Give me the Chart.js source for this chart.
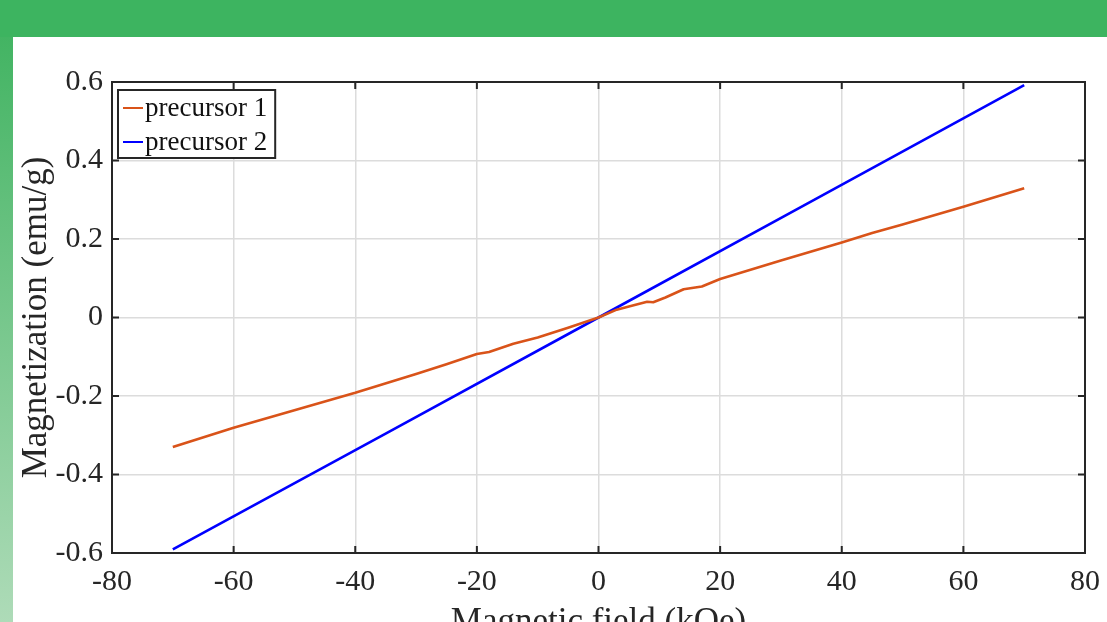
<!DOCTYPE html>
<html lang="en">
<head>
    <meta charset="UTF-8">
    <title>Magnetization vs field</title>
    <script src="https://cdn.jsdelivr.net/npm/chart.js"></script>
    <style>
        html, body {
            margin: 0;
            padding: 0;
            width: 1107px;
            height: 622px;
            overflow: hidden;
            background: #3db460;
        }
        .strip {
            position: absolute;
            left: 0;
            top: 37px;
            width: 13px;
            height: 585px;
            background: linear-gradient(to bottom, #43b463, #aedbb8);
        }
        .panel {
            position: absolute;
            left: 13px;
            top: 37px;
            width: 1094px;
            height: 585px;
            background: #fff;
            overflow: hidden;
        }
        .panel canvas {
            position: absolute;
            left: 0;
            top: 0;
        }
    </style>
</head>
<body>
    <div class="strip"></div>
    <div class="panel">
        <canvas id="chart" width="1094" height="620"></canvas>
    </div>

    <script>
        // precursor 1 (orange)
        const fieldP1 = [-70, -60, -50, -40, -30, -25, -20, -18, -14, -10, -5, 0, 3, 5, 8, 9, 11, 14, 17, 20, 30, 40, 45, 50, 60, 70];
        const magP1 = [-0.330, -0.281, -0.236, -0.192, -0.144, -0.119, -0.093, -0.088, -0.067, -0.051, -0.026, 0, 0.020, 0.028, 0.040, 0.039, 0.051, 0.072, 0.079, 0.098, 0.145, 0.191, 0.215, 0.237, 0.282, 0.329];

        // precursor 2 (blue)
        const fieldP2 = [-70, -35, 0, 35, 70];
        const magP2 = [-0.591, -0.296, 0, 0.296, 0.592];

        const seriesLabels = ['precursor 1', 'precursor 2'];
        const seriesColors = ['#d95319', '#0000ff'];

        const xTicks = [-80, -60, -40, -20, 0, 20, 40, 60, 80];
        const yTicks = [-0.6, -0.4, -0.2, 0, 0.2, 0.4, 0.6];

        const serif = '"Liberation Serif", "Times New Roman", serif';
        const ink = '#262626';

        function toPoints(xs, ys) {
            return xs.map((x, i) => ({ x: x, y: ys[i] }));
        }

        // box around the plot, ticks pointing inwards, legend in the corner
        const boxPlugin = {
            id: 'box',
            afterDatasetsDraw(chart) {
                const ctx = chart.ctx;
                const a = chart.chartArea;
                const xs = chart.scales.x, ys = chart.scales.y;
                const tl = 7;
                ctx.save();
                ctx.strokeStyle = ink;
                ctx.lineWidth = 2;
                ctx.beginPath();
                xTicks.forEach(v => {
                    const px = xs.getPixelForValue(v);
                    ctx.moveTo(px, a.bottom); ctx.lineTo(px, a.bottom - tl);
                    ctx.moveTo(px, a.top); ctx.lineTo(px, a.top + tl);
                });
                yTicks.forEach(v => {
                    const py = ys.getPixelForValue(v);
                    ctx.moveTo(a.left, py); ctx.lineTo(a.left + tl, py);
                    ctx.moveTo(a.right, py); ctx.lineTo(a.right - tl, py);
                });
                ctx.stroke();
                ctx.strokeRect(a.left, a.top, a.right - a.left, a.bottom - a.top);

                // legend
                ctx.font = '27px ' + serif;
                const textW = Math.max(...seriesLabels.map(s => ctx.measureText(s).width));
                const bx = a.left + 6, by = a.top + 8;
                const bw = 27 + textW + 8, bh = 68;
                ctx.fillStyle = '#fff';
                ctx.fillRect(bx, by, bw, bh);
                ctx.lineWidth = 2;
                ctx.strokeStyle = ink;
                ctx.strokeRect(bx, by, bw, bh);
                ctx.textBaseline = 'middle';
                ctx.textAlign = 'left';
                seriesLabels.forEach((s, i) => {
                    const ly = by + 18 + i * 34;
                    ctx.strokeStyle = seriesColors[i];
                    ctx.lineWidth = 2;
                    ctx.beginPath();
                    ctx.moveTo(bx + 5, ly);
                    ctx.lineTo(bx + 25, ly);
                    ctx.stroke();
                    ctx.fillStyle = '#111';
                    ctx.fillText(s, bx + 27, ly + 1);
                });
                ctx.restore();
            }
        };

        new Chart(document.getElementById('chart'), {
            type: 'line',
            data: {
                datasets: [
                    {
                        label: seriesLabels[0],
                        data: toPoints(fieldP1, magP1),
                        borderColor: seriesColors[0],
                        borderWidth: 2.6,
                        borderJoinStyle: 'round',
                        pointRadius: 0,
                        tension: 0
                    },
                    {
                        label: seriesLabels[1],
                        data: toPoints(fieldP2, magP2),
                        borderColor: seriesColors[1],
                        borderWidth: 2.6,
                        pointRadius: 0,
                        tension: 0
                    }
                ]
            },
            options: {
                responsive: false,
                animation: false,
                layout: { padding: { top: 45, right: 22, left: 0, bottom: 0 } },
                plugins: {
                    legend: { display: false },
                    tooltip: { enabled: false }
                },
                scales: {
                    x: {
                        type: 'linear',
                        min: -80,
                        max: 80,
                        afterFit(scale) {
                            scale.height = 104;
                            scale.paddingLeft = 0;
                            scale.paddingRight = 0;
                        },
                        afterBuildTicks(scale) { scale.ticks = xTicks.map(v => ({ value: v })); },
                        border: { display: false },
                        grid: { color: '#dcdcdc', lineWidth: 1.5, drawTicks: false },
                        ticks: {
                            padding: 11,
                            color: ink,
                            font: { family: serif, size: 30 },
                            maxRotation: 0,
                            callback: v => String(v)
                        },
                        title: {
                            display: true,
                            text: 'Magnetic field (kOe)',
                            color: ink,
                            font: { family: serif, size: 35 },
                            padding: { top: 0, bottom: 13 }
                        }
                    },
                    y: {
                        min: -0.6,
                        max: 0.6,
                        afterFit(scale) { scale.width = 99; },
                        afterBuildTicks(scale) { scale.ticks = yTicks.map(v => ({ value: v })); },
                        border: { display: false },
                        grid: { color: '#dcdcdc', lineWidth: 1.5, drawTicks: false },
                        ticks: {
                            padding: 9,
                            color: ink,
                            font: { family: serif, size: 30 },
                            callback: v => String(Math.round(v * 10) / 10)
                        },
                        title: {
                            display: true,
                            text: 'Magnetization (emu/g)',
                            color: ink,
                            font: { family: serif, size: 35 },
                            padding: { top: 3, bottom: 0 }
                        }
                    }
                }
            },
            plugins: [boxPlugin]
        });
    </script>
</body>
</html>
